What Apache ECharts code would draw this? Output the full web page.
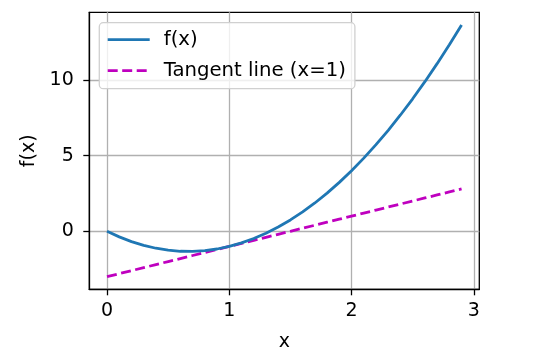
<!DOCTYPE html>
<html>
<head>
<meta charset="utf-8">
<script src="https://cdn.jsdelivr.net/npm/echarts@6/dist/echarts.min.js"></script>
<style>html,body{margin:0;padding:0;background:#fff}#c{width:540px;height:362px}</style>
</head>
<body>
<div id="c"></div>
<script>
const xValues = [0,0.1,0.2,0.3,0.4,0.5,0.6,0.7,0.8,0.9,1.0,1.1,1.2,1.3,1.4,1.5,1.6,1.7,1.8,1.9,2.0,2.1,2.2,2.3,2.4,2.5,2.6,2.7,2.8,2.9];
const fValues = [0,-0.37,-0.68,-0.93,-1.12,-1.25,-1.32,-1.33,-1.28,-1.17,-1,-0.77,-0.48,-0.13,0.28,0.75,1.28,1.87,2.52,3.23,4,4.83,5.72,6.67,7.68,8.75,9.88,11.07,12.32,13.63];
const tangentValues = [-3,-2.8,-2.6,-2.4,-2.2,-2,-1.8,-1.6,-1.4,-1.2,-1,-0.8,-0.6,-0.4,-0.2,0,0.2,0.4,0.6,0.8,1,1.2,1.4,1.6,1.8,2,2.2,2.4,2.6,2.8];
const xTicks = [0,1,2,3];
const yTicks = [0,5,10];
const seriesNames = ['f(x)','Tangent line (x=1)'];

const FONT = 'DejaVu Sans';
const FS = 19;
const chart = echarts.init(document.getElementById('c'), null, {renderer:'canvas'});
const zip = (a,b)=>a.map((v,i)=>[v,b[i]]);
chart.setOption({
  animation:false,
  grid:{left:89.3,right:60.7,top:12.3,bottom:72.7,show:true,borderColor:'#000',borderWidth:1.3,backgroundColor:'transparent'},
  legend:{
    orient:'vertical',left:99.3,top:22.7,
    itemWidth:42,itemHeight:14,itemGap:11,
    padding:[7,9,8,7],
    backgroundColor:'rgba(255,255,255,0.8)',
    borderColor:'#d0d0d0',borderWidth:1.3,borderRadius:4,
    itemStyle:{opacity:0},
    textStyle:{fontFamily:FONT,fontSize:19.7,color:'#000',padding:[0,0,0,9]},
    data:[
      {name:seriesNames[0],lineStyle:{color:'#1f77b4',width:2.8,type:'solid'}},
      {name:seriesNames[1],lineStyle:{color:'#bf00bf',width:2.8,type:[10,4.5]}}
    ]
  },
  xAxis:{
    type:'value',min:-0.145,max:3.045,
    name:'x',nameLocation:'middle',nameGap:43,
    nameTextStyle:{fontFamily:FONT,fontSize:FS,color:'#000'},
    axisLine:{show:true,onZero:false,lineStyle:{color:'#000',width:1.3}},
    axisTick:{show:true,length:6,customValues:xTicks,lineStyle:{color:'#000',width:1.3}},
    axisLabel:{customValues:xTicks,margin:12,fontFamily:FONT,fontSize:FS,color:'#000'},
    splitLine:{show:true,lineStyle:{color:'#b0b0b0',width:1.3}}
  },
  yAxis:{
    type:'value',min:-3.8315,max:14.4615,
    name:'f(x)',nameLocation:'middle',nameGap:47,nameRotate:90,
    nameTextStyle:{fontFamily:FONT,fontSize:FS,color:'#000'},
    axisLine:{show:true,onZero:false,lineStyle:{color:'#000',width:1.3}},
    axisTick:{show:true,length:6,customValues:yTicks,lineStyle:{color:'#000',width:1.3}},
    axisLabel:{customValues:yTicks,margin:15.5,fontFamily:FONT,fontSize:FS,color:'#000'},
    splitLine:{show:true,lineStyle:{color:'#b0b0b0',width:1.3}}
  },
  series:[
    {name:seriesNames[0],type:'line',data:zip(xValues,fValues),showSymbol:false,symbol:'none',
     lineStyle:{color:'#1f77b4',width:2.8},itemStyle:{color:'#1f77b4'},z:3},
    {name:seriesNames[1],type:'line',data:zip(xValues,tangentValues),showSymbol:false,symbol:'none',
     lineStyle:{color:'#bf00bf',width:2.8,type:[10,4.5]},itemStyle:{color:'#bf00bf'},z:2}
  ]
});
</script>
</body>
</html>
